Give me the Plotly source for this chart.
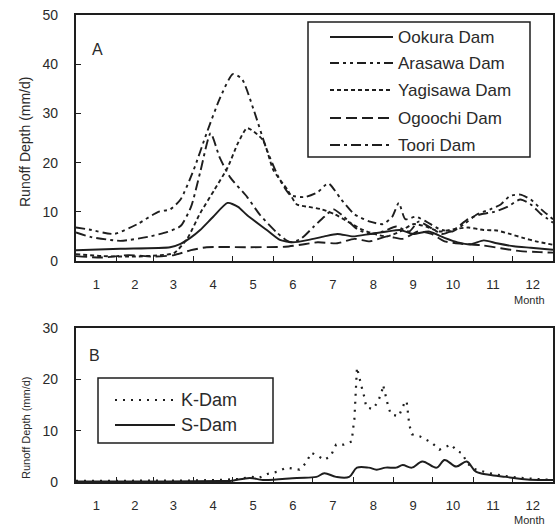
import plotly.graph_objects as go

W, H = 559, 528

# ---------------- data ----------------
month_labels = ['1', '2', '3', '4', '5', '6', '7', '8', '9', '10', '11', '12']
month_days = [31, 28, 31, 30, 31, 30, 31, 31, 30, 31, 30, 31]

names_a = ['Ookura Dam', 'Arasawa Dam', 'Yagisawa Dam', 'Ogoochi Dam', 'Toori Dam']

ookura_day = [0, 34, 72, 80, 88, 95, 105, 116, 124, 131, 146, 156, 166, 178, 190, 200, 212, 225, 238,
              248, 258, 270, 282, 292, 302, 312, 322, 335, 348, 365]
ookura_val = [2.2, 2.5, 2.8, 3.5, 4.8, 6.3, 9.0, 11.8, 11.0, 9.3, 6.3, 4.3, 3.8, 4.3, 5.0, 5.5, 5.0,
              5.5, 6.0, 6.3, 5.5, 6.0, 4.7, 3.8, 3.4, 4.2, 3.6, 3.0, 2.7, 2.3]

arasawa_day = [0, 10, 29, 47, 63, 72, 80, 90, 100, 110, 120, 127, 136, 146, 156, 164, 175, 185, 193,
               203, 213, 225, 235, 242, 247, 252, 260, 268, 278, 288, 297, 307, 317, 325, 332, 340,
               348, 356, 365]
arasawa_val = [6.8, 6.4, 5.5, 7.5, 10.0, 10.5, 12.5, 18.5, 26.0, 33.0, 38.0, 37.0, 30.7, 22.6, 16.5,
               13.4, 13.0, 14.0, 15.8, 12.5, 9.5, 8.0, 7.5, 9.0, 11.8, 8.5, 9.0, 8.0, 6.5, 6.0, 7.5,
               9.5, 10.5, 11.5, 13.2, 13.5, 12.5, 10.5, 8.5]

yagisawa_day = [0, 20, 45, 65, 75, 85, 95, 106, 116, 124, 131, 143, 151, 162, 169, 178, 188, 198, 208,
                218, 228, 238, 248, 258, 268, 278, 290, 300, 312, 322, 332, 342, 352, 365]
yagisawa_val = [1.4, 1.0, 0.9, 1.2, 1.6, 4.5, 9.7, 14.5, 19.0, 24.0, 27.0, 24.6, 18.5, 14.4, 11.5,
                11.0, 10.5, 9.5, 8.0, 6.5, 5.5, 5.0, 6.0, 7.5, 7.0, 6.0, 6.5, 6.8, 6.3, 6.2, 5.5,
                4.7, 4.0, 3.3]

ogoochi_day = [0, 20, 40, 60, 75, 88, 100, 130, 160, 172, 185, 200, 213, 225, 238, 250, 262, 272, 282,
               295, 310, 325, 340, 355, 365]
ogoochi_val = [1.0, 0.7, 1.2, 0.9, 1.2, 2.2, 2.8, 2.8, 2.9, 3.3, 3.8, 3.6, 4.5, 4.0, 5.0, 4.5, 6.0,
               5.5, 4.0, 3.5, 3.2, 2.6, 2.0, 1.8, 1.7]

toori_day = [0, 11, 34, 55, 70, 80, 88, 95, 103, 110, 118, 131, 141, 154, 164, 172, 182, 190, 197, 205,
             215, 225, 235, 245, 255, 262, 270, 280, 290, 300, 310, 320, 330, 340, 348, 356, 365]
toori_val = [5.8, 4.9, 4.1, 4.9, 5.9, 7.1, 11.0, 18.0, 26.0, 21.0, 17.0, 13.0, 9.3, 5.7, 3.8, 4.5,
             7.0, 9.0, 10.5, 9.0, 6.5, 5.5, 6.0, 7.0, 6.0, 8.0, 7.0, 5.5, 6.5, 8.5, 9.5, 10.0, 11.0,
             12.5, 11.5, 9.5, 7.8]

names_b = ['K-Dam', 'S-Dam']

kdam_day = [0, 30, 60, 90, 110, 125, 134, 140, 147, 154, 161, 171, 176, 180, 185, 190, 195, 199, 205,
            211, 212, 213, 213.5, 214, 214.5, 215, 219, 221, 222, 227, 231, 234, 235, 237, 239, 241,
            247, 251, 253, 255, 257, 263, 268, 272, 278, 283, 287, 292, 295, 300, 305, 315, 325, 340,
            355, 365]
kdam_val = [0.2, 0.2, 0.2, 0.3, 0.4, 0.6, 1.0, 0.8, 1.6, 2.0, 2.8, 2.4, 3.7, 5.7, 5.1, 4.3, 5.1, 7.3,
            7.3, 7.9, 10.3, 12.2, 14.6, 16.6, 18.1, 22.3, 18.1, 16.2, 14.6, 14.2, 15.6, 17.6, 18.9,
            16.8, 14.6, 13.2, 12.8, 15.2, 15.8, 11.2, 9.3, 8.9, 8.3, 7.7, 6.3, 6.9, 7.3, 5.9, 5.7,
            3.5, 2.5, 1.8, 1.3, 0.8, 0.5, 0.4]

sdam_day = [0, 30, 60, 90, 110, 118, 133, 143, 169, 184, 190, 199, 209, 215, 224, 230, 237, 245, 250,
            257, 265, 276, 282, 291, 299, 306, 316, 329, 341, 354, 365]
sdam_val = [0.1, 0.1, 0.1, 0.15, 0.2, 0.2, 0.8, 0.4, 0.8, 1.0, 1.7, 1.0, 1.0, 2.8, 2.8, 2.4, 2.8, 2.8,
            3.3, 2.8, 4.0, 2.8, 4.3, 3.0, 4.0, 2.0, 1.4, 1.0, 0.6, 0.4, 0.4]

yticks_a = [0, 10, 20, 30, 40, 50]
yticks_b = [0, 10, 20, 30]
ytitle = 'Runoff Depth (mm/d)'
xunit = 'Month'

# ---------------- styling / layout ----------------
INK = '#1e1e1e'
TXT = '#2a2a2a'
FONT = 'Liberation Sans, Arial, sans-serif'

ML, MR, MT, MB = 76, 6, 15, 46
PW, PH = W - ML - MR, H - MT - MB


def px(x):
    return (x - ML) / PW


def py(y):
    return 1 - (y - MT) / PH


bounds = []
acc = 0
for d in month_days[:-1]:
    acc += d
    bounds.append(acc)
centers = []
acc = 0
for d in month_days:
    centers.append(acc + d / 2)
    acc += d

dash_a = ['solid', '9px,4px,3px,4px,3px,4px', '4px,3px', '11px,5px', '10px,4px,3px,4px']
dash_b = ['2px,6px', 'solid']

fig = go.Figure()
series_a = [(ookura_day, ookura_val), (arasawa_day, arasawa_val), (yagisawa_day, yagisawa_val),
            (ogoochi_day, ogoochi_val), (toori_day, toori_val)]
for (dx, dy), nm, ds in zip(series_a, names_a, dash_a):
    fig.add_trace(go.Scatter(x=dx, y=dy, name=nm, mode='lines', xaxis='x', yaxis='y',
                             line=dict(color=INK, width=1.9, dash=ds, shape='spline', smoothing=0.6),
                             showlegend=False))

series_b = [(kdam_day, kdam_val), (sdam_day, sdam_val)]
for (dx, dy), nm, ds, wd, shp in zip(series_b, names_b, dash_b, [2.2, 2.0], ['linear', 'spline']):
    fig.add_trace(go.Scatter(x=dx, y=dy, name=nm, mode='lines', xaxis='x2', yaxis='y2',
                             line=dict(color=INK, width=wd, dash=ds, shape=shp),
                             showlegend=False))

ax_common = dict(range=[0, 365], showline=True, linewidth=2.2, linecolor=INK, mirror=True,
                 showgrid=False, zeroline=False, tickmode='array', tickvals=centers,
                 ticktext=month_labels, ticks='', ticklabelstandoff=10, automargin=False,
                 tickfont=dict(family=FONT, size=13, color=TXT),
                 minor=dict(tickmode='array', tickvals=bounds, ticks='inside', ticklen=5,
                            tickcolor=INK, tickwidth=1.2))
ay_common = dict(showline=True, linewidth=2.2, linecolor=INK, mirror=True, showgrid=False,
                 zeroline=False, tickmode='array', ticks='inside', ticklen=5, tickcolor=INK,
                 tickwidth=1.2, ticklabelstandoff=13, automargin=False,
                 tickfont=dict(family=FONT, size=14, color=TXT))

dom_a = [py(261), 1]
dom_b = [0, py(328)]

fig.update_layout(
    width=W, height=H, margin=dict(l=ML, r=MR, t=MT, b=MB, autoexpand=False),
    paper_bgcolor='white', plot_bgcolor='white',
    xaxis=dict(anchor='y', domain=[0, 1], **ax_common),
    xaxis2=dict(anchor='y2', domain=[0, 1], **ax_common),
    yaxis=dict(anchor='x', domain=dom_a, range=[0, 50], tickvals=yticks_a, **ay_common),
    yaxis2=dict(anchor='x2', domain=dom_b, range=[0, 30], tickvals=yticks_b, **ay_common),
    showlegend=False,
)

ann = []
shapes = []


def label(x, y, text, size, xanchor='center', angle=0):
    ann.append(dict(x=px(x), y=py(y), xref='paper', yref='paper', text=text, textangle=angle,
                    showarrow=False, xanchor=xanchor, yanchor='middle',
                    font=dict(family=FONT, size=size, color=TXT)))


# axis titles
label(25, 142, ytitle, 14, angle=-90)
label(26, 428, ytitle, 11, angle=-90)
label(529, 300, xunit, 11)
label(529, 520, xunit, 11)
# panel letters
label(97, 49, 'A', 16)
label(94, 355, 'B', 16)

# legend A
shapes.append(dict(type='rect', xref='paper', yref='paper', x0=px(308), x1=px(530), y0=py(157),
                   y1=py(22), line=dict(color=INK, width=1.5), fillcolor='white', layer='above'))
rows_a = [37, 63, 90, 118, 145]
for nm, ds, ry in zip(names_a, dash_a, rows_a):
    shapes.append(dict(type='line', xref='paper', yref='paper', x0=px(330), x1=px(393),
                       y0=py(ry), y1=py(ry), line=dict(color=INK, width=1.9, dash=ds)))
    label(396, ry, nm, 17, xanchor='left')
# legend B
shapes.append(dict(type='rect', xref='paper', yref='paper', x0=px(98), x1=px(273), y0=py(443),
                   y1=py(378), line=dict(color=INK, width=1.5), fillcolor='white', layer='above'))
rows_b = [400, 425]
for nm, ds, ry, wd in zip(names_b, dash_b, rows_b, [2.2, 2.0]):
    shapes.append(dict(type='line', xref='paper', yref='paper', x0=px(115), x1=px(175),
                       y0=py(ry), y1=py(ry), line=dict(color=INK, width=wd, dash=ds)))
    label(179, ry, nm, 18, xanchor='left')

fig.update_layout(annotations=ann, shapes=shapes)
fig.write_html('out.html', config={'displayModeBar': False},
               post_script="document.body.style.margin='0px';")
